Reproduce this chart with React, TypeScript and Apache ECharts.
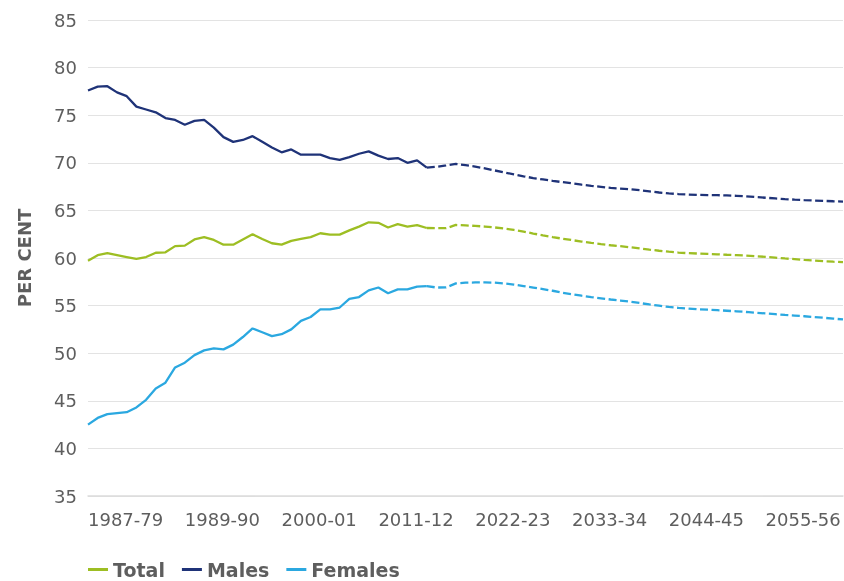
import React, { useEffect, useRef } from "react";
import * as echarts from "echarts";

// Tick labels shown every 10 categories (as printed in the source chart)
const tickLabels = ["1987-79", "1989-90", "2000-01", "2011-12", "2022-23", "2033-34", "2044-45", "2055-56"];

// Historical values (index 0..35)
const totalHist = [59.7, 60.3, 60.5, 60.3, 60.1, 59.9, 60.1, 60.55, 60.6, 61.25, 61.3, 61.95, 62.2, 61.9, 61.4, 61.4, 61.95, 62.5, 62.0, 61.55, 61.4, 61.8, 62.0, 62.2, 62.6, 62.45, 62.45, 62.9, 63.3, 63.75, 63.7, 63.2, 63.55, 63.3, 63.45, 63.15];
const malesHist = [77.6, 78.0, 78.05, 77.4, 77.0, 75.9, 75.6, 75.3, 74.7, 74.5, 74.0, 74.4, 74.5, 73.7, 72.7, 72.2, 72.4, 72.8, 72.2, 71.6, 71.1, 71.4, 70.85, 70.85, 70.85, 70.5, 70.3, 70.6, 70.95, 71.2, 70.75, 70.4, 70.5, 70.0, 70.25, 69.5];
const femalesHist = [42.5, 43.2, 43.6, 43.7, 43.8, 44.3, 45.1, 46.3, 46.9, 48.5, 49.0, 49.8, 50.3, 50.5, 50.4, 50.9, 51.7, 52.6, 52.2, 51.8, 52.0, 52.5, 53.4, 53.8, 54.6, 54.6, 54.8, 55.7, 55.9, 56.6, 56.9, 56.3, 56.7, 56.7, 57.0, 57.05];

// Projected values (index 35..78)
const totalProj = [63.15, 63.13, 63.13, 63.47, 63.42, 63.37, 63.3, 63.21, 63.09, 62.95, 62.77, 62.57, 62.38, 62.2, 62.03, 61.88, 61.73, 61.59, 61.46, 61.34, 61.24, 61.13, 61.01, 60.88, 60.76, 60.66, 60.57, 60.51, 60.47, 60.43, 60.39, 60.34, 60.3, 60.25, 60.19, 60.12, 60.04, 59.95, 59.88, 59.8, 59.73, 59.67, 59.61, 59.56];
const malesProj = [69.5, 69.58, 69.72, 69.88, 69.75, 69.6, 69.42, 69.2, 69.0, 68.78, 68.58, 68.4, 68.25, 68.1, 67.97, 67.85, 67.7, 67.58, 67.47, 67.36, 67.29, 67.22, 67.12, 67.0, 66.88, 66.78, 66.72, 66.67, 66.63, 66.61, 66.6, 66.57, 66.53, 66.48, 66.4, 66.33, 66.26, 66.19, 66.13, 66.08, 66.04, 66.0, 65.96, 65.93];
const femalesProj = [57.05, 56.9, 56.91, 57.33, 57.41, 57.43, 57.43, 57.41, 57.33, 57.2, 57.05, 56.89, 56.73, 56.56, 56.36, 56.2, 56.04, 55.9, 55.77, 55.64, 55.53, 55.41, 55.27, 55.12, 54.99, 54.86, 54.76, 54.69, 54.61, 54.57, 54.52, 54.46, 54.4, 54.33, 54.25, 54.18, 54.1, 54.02, 53.95, 53.88, 53.8, 53.72, 53.63, 53.55];

const projStart = 35;
const nPoints = projStart + totalProj.length;
const categories: string[] = [];
for (let i = 0; i < nPoints; i++) {
  const y = 1978 + i;
  categories.push(`${y}-${String((y + 1) % 100).padStart(2, "0")}`);
}

const COLORS = { total: "#9DBE23", males: "#1F3378", females: "#2BA8E0" };

function padHist(arr: number[]) {
  const out: (number | null)[] = [];
  for (let i = 0; i < nPoints; i++) out.push(i < arr.length ? arr[i] : null);
  return out;
}
function padProj(arr: number[]) {
  const out: (number | null)[] = [];
  for (let i = 0; i < nPoints; i++) out.push(i >= projStart ? arr[i - projStart] : null);
  return out;
}

export default function App() {
  const ref = useRef<HTMLDivElement>(null);
  useEffect(() => {
    if (!ref.current) return;
    const chart = echarts.init(ref.current, undefined, { renderer: "svg" });
    const font = "'DejaVu Sans', sans-serif";
    const textColor = "#5e5e5e";
    const lineW = 2.3;
    const mk = (name: string, data: (number | null)[], color: string, dashed: boolean) => ({
      name,
      type: "line",
      data,
      color,
      showSymbol: false,
      symbol: "none",
      connectNulls: false,
      lineStyle: { color, width: lineW, type: dashed ? [8, 3.5] : "solid" },
      itemStyle: { color },
    });
    chart.setOption({
      animation: false,
      grid: { left: 88, right: 1, top: 20, bottom: 85, containLabel: false },
      legend: {
        data: ["Total", "Males", "Females"],
        left: 88,
        top: 560,
        padding: 0,
        icon: "rect",
        itemWidth: 20,
        itemHeight: 3,
        itemGap: 17,
        textStyle: { fontFamily: font, fontSize: 19, fontWeight: "bold", color: textColor },
      },
      xAxis: {
        type: "category",
        data: categories,
        boundaryGap: false,
        axisLine: { show: true, lineStyle: { color: "#dcdcdc", width: 1.5 } },
        axisTick: { show: false },
        splitLine: { show: false },
        axisLabel: {
          interval: 9,
          align: "left",
          margin: 14,
          fontFamily: font,
          fontSize: 18,
          color: textColor,
          formatter: (_v: string, i: number) => tickLabels[Math.round(i / 10)] ?? "",
        },
      },
      yAxis: {
        type: "value",
        min: 35,
        max: 85,
        interval: 5,
        name: "PER CENT",
        nameLocation: "middle",
        nameGap: 55,
        nameTextStyle: { fontFamily: font, fontSize: 18, fontWeight: "bold", color: textColor },
        axisLine: { show: false },
        axisTick: { show: false },
        axisLabel: { margin: 11, fontFamily: font, fontSize: 18, color: textColor },
        splitLine: { lineStyle: { color: "#e3e3e3", width: 1 } },
      },
      series: [
        mk("Total", padHist(totalHist), COLORS.total, false),
        mk("Males", padHist(malesHist), COLORS.males, false),
        mk("Females", padHist(femalesHist), COLORS.females, false),
        mk("Total projection", padProj(totalProj), COLORS.total, true),
        mk("Males projection", padProj(malesProj), COLORS.males, true),
        mk("Females projection", padProj(femalesProj), COLORS.females, true),
      ],
    });
    return () => chart.dispose();
  }, []);
  return <div ref={ref} style={{ position: "fixed", left: 0, top: 0, width: 844, height: 581 }} />;
}
